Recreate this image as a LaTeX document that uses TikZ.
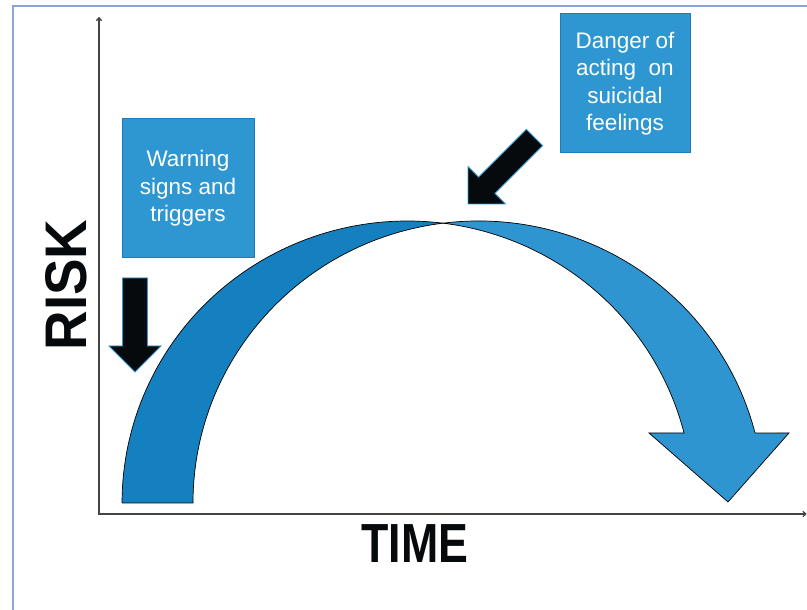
\documentclass[tikz,border=0pt]{standalone}
\usepackage{fontspec}
\setmainfont{Liberation Sans}
\usetikzlibrary{arrows.meta}
\definecolor{bandA}{HTML}{1580C0}
\definecolor{bandB}{HTML}{2E95D0}
\definecolor{boxfill}{HTML}{2E96D1}
\definecolor{boxedge}{HTML}{1E7CBE}
\definecolor{framec}{HTML}{8AA3D8}
\definecolor{axisc}{HTML}{444444}
\definecolor{inkc}{HTML}{060A0C}
\tikzset{
  axisline/.style={draw=axisc, line width=1.2pt},
  bandedge/.style={draw=black, line width=0.7pt},
  infobox/.style={draw=boxedge, line width=1pt, fill=boxfill, text=white, align=center, inner sep=0pt,
    font=\fontsize{22.5}{27.5}\selectfont},
  bigword/.style={inner sep=0pt, text=inkc, font=\bfseries},
  blackarrow/.style={fill=inkc, draw=bandB, line width=0.8pt, line join=miter}
}
\begin{document}
\begin{tikzpicture}[x=1pt,y=1pt]
\clip (0,0) rectangle (807,610);
\fill[white] (0,0) rectangle (807,610);
% frame
\draw[framec, line width=1.2pt] (13,-5) -- (13,604) -- (812,604);
% axes
\coordinate (O) at (99,96);
\coordinate (Ytop) at (99,593);
\coordinate (Xend) at (806.5,96);
\draw[axisline, -{To[length=4pt,width=6pt]}] (O) -- (Ytop);
\draw[axisline, -{To[length=4pt,width=6pt]}] ([xshift=-0.6pt]O) -- (Xend);
% big curved arrow: left band
\filldraw[fill=bandA, bandedge] (122,107) -- (193,107)
  arc[start angle=180, end angle=97.14, x radius=285.5, y radius=282]
  arc[start angle=82.86, end angle=180, x radius=285.5, y radius=282] -- cycle;
% right band with head
\filldraw[fill=bandB, bandedge, line join=miter] (443.01,386.81)
  arc[start angle=97.14, end angle=14.37, x radius=285.5, y radius=282]
  -- (789,177) -- (728,108) -- (649,177) -- (684.07,177)
  arc[start angle=14.37, end angle=82.86, x radius=285.5, y radius=282] -- cycle;
% black arrows
\begin{scope}[shift={(135,238)}, rotate=90]
  \filldraw[blackarrow] (0,0) -- (26,26) -- (26,12.5) -- (94,12.5) -- (94,-12.5) -- (26,-12.5) -- (26,-26) -- cycle;
\end{scope}
\begin{scope}[shift={(468,406)}, rotate=45]
  \filldraw[blackarrow] (0,0) -- (26.5,26.5) -- (26.5,11.5) -- (94,11.5) -- (94,-11.5) -- (26.5,-11.5) -- (26.5,-26.5) -- cycle;
\end{scope}
% boxes
\node[infobox, minimum width=132pt, minimum height=139pt] (warn) at (188,421.5) {Warning\\signs and\\triggers};
\node[infobox, minimum width=130pt, minimum height=139pt] (danger) at (625,526.5) {Danger of\\acting\ \ on\\suicidal\\feelings};
% axis labels
\node[bigword, rotate=90] (risk) at (66,325) {\fontsize{57}{60}\selectfont\scalebox{0.96}[1.03]{RISK}};
\node[bigword] (time) at (415,66.5) {\fontsize{52}{56}\selectfont\scalebox{0.86}[1.06]{TIME}};
\end{tikzpicture}
\end{document}
